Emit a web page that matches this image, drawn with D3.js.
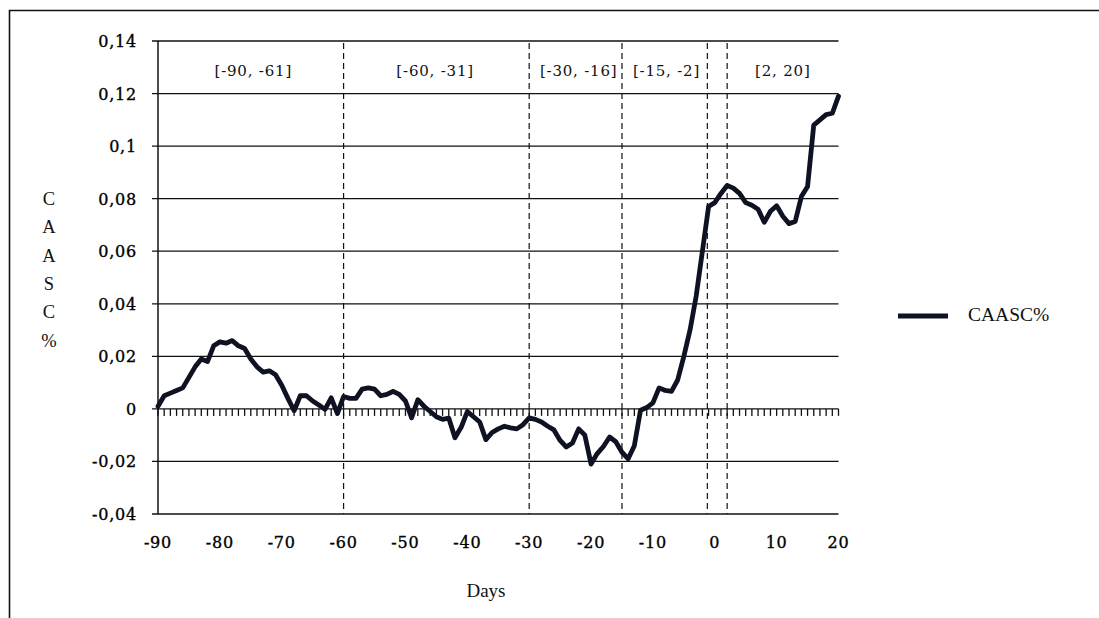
<!DOCTYPE html>
<html><head><meta charset="utf-8">
<script src="https://cdn.jsdelivr.net/npm/d3@7"></script>
<style>body{margin:0;background:#fff}svg{display:block}</style>
</head><body>
<svg id="c" width="1099" height="618"></svg>
<script>
const days = d3.range(-90, 21);
const values = [
 0.001,0.005,0.006,0.007,0.008,0.012,0.016,0.019,0.018,0.024,
 0.0255,0.025,0.026,0.024,0.023,0.019,0.016,0.014,0.0145,0.013,
 0.009,0.004,-0.0007,0.005,0.005,0.003,0.0015,-0.0002,0.0042,-0.0018,
 0.0047,0.004,0.004,0.0075,0.008,0.0075,0.005,0.0055,0.0067,0.0055,
 0.003,-0.0034,0.0035,0.001,-0.001,-0.003,-0.004,-0.0035,-0.011,-0.007,
 -0.001,-0.003,-0.005,-0.0117,-0.009,-0.0076,-0.0066,-0.0072,-0.0076,-0.006,
 -0.0034,-0.004,-0.005,-0.0066,-0.008,-0.012,-0.0145,-0.013,-0.0076,-0.01,
 -0.021,-0.017,-0.0143,-0.0107,-0.0125,-0.0165,-0.019,-0.014,-0.0005,0.0005,
 0.0023,0.008,0.007,0.0067,0.011,0.02,0.03,0.043,0.06,0.077,
 0.0785,0.082,0.085,0.084,0.082,0.0785,0.0775,0.076,0.071,0.0752,
 0.0773,0.0733,0.0705,0.0713,0.0808,0.0846,0.108,0.110,0.112,0.1125,
 0.119
];
const yTicks = [0.14,0.12,0.10,0.08,0.06,0.04,0.02,0,-0.02,-0.04];
const yTickLabels = ["0,14","0,12","0,1","0,08","0,06","0,04","0,02","0","-0,02","-0,04"];
const xTicks = [-90,-80,-70,-60,-50,-40,-30,-20,-10,0,10,20];
const dividers = [-60,-30,-15,-1.2,2];
const periodLabels = ["[-90, -61]","[-60, -31]","[-30, -16]","[-15, -2]","[2, 20]"];
const periodCenters = [-74.6,-45.2,-22,-7.8,11];
const seriesName = "CAASC%";
const yTitle = ["C","A","A","S","C","%"];
const xTitle = "Days";

const svg = d3.select("#c");
const x = d3.scaleLinear().domain([-90,20]).range([158,838.5]);
const y = d3.scaleLinear().domain([-0.04,0.14]).range([514,41]);

// outer frame
svg.append("path").attr("d","M9.5,618 V10.5 H1099").attr("fill","none").attr("stroke","#111").attr("stroke-width",1.6);

// gridlines
svg.append("g").selectAll("line").data(yTicks).join("line")
  .attr("x1",152).attr("x2",x(20)).attr("y1",d=>y(d)).attr("y2",d=>y(d))
  .attr("stroke","#111").attr("stroke-width",1.3);
// y axis line
svg.append("line").attr("x1",x(-90)).attr("x2",x(-90)).attr("y1",y(0.14)).attr("y2",y(-0.04)).attr("stroke","#111").attr("stroke-width",1.5);

// minor ticks on zero line
svg.append("g").selectAll("line").data(days).join("line")
  .attr("x1",d=>x(d)).attr("x2",d=>x(d)).attr("y1",y(0)).attr("y2",y(0)+7)
  .attr("stroke","#111").attr("stroke-width",1.3);

// dividers
svg.append("g").selectAll("line").data(dividers).join("line")
  .attr("x1",d=>x(d)).attr("x2",d=>x(d)).attr("y1",y(0.14)+2).attr("y2",y(-0.04))
  .attr("stroke","#111").attr("stroke-width",1.2).attr("stroke-dasharray","6,4");

// y tick labels
svg.append("g").selectAll("text").data(yTicks).join("text")
  .attr("x",137).attr("y",d=>y(d)+6).attr("text-anchor","end")
  .attr("font-family","DejaVu Serif").attr("font-size",16).attr("letter-spacing",0.8)
  .attr("fill","#000").attr("stroke","#000").attr("stroke-width",0.35)
  .text((d,i)=>yTickLabels[i]);
// x tick labels
svg.append("g").selectAll("text").data(xTicks).join("text")
  .attr("x",d=>x(d)).attr("y",548).attr("text-anchor","middle")
  .attr("font-family","DejaVu Serif").attr("font-size",16).attr("letter-spacing",0.8)
  .attr("fill","#000").attr("stroke","#000").attr("stroke-width",0.35)
  .text(d=>String(d));

// period labels
svg.append("g").selectAll("text").data(periodLabels).join("text")
  .attr("x",(d,i)=>x(periodCenters[i])).attr("y",76).attr("text-anchor","middle")
  .attr("font-family","DejaVu Serif").attr("font-size",15).attr("letter-spacing",0.8).attr("fill","#111")
  .text(d=>d);

// y title stacked
svg.append("g").selectAll("text").data(yTitle).join("text")
  .attr("x",49).attr("y",(d,i)=>205+i*28.3).attr("text-anchor","middle")
  .attr("font-family","Liberation Serif").attr("font-size",18.5).attr("fill","#111")
  .text(d=>d);

// x title
svg.append("text").attr("x",486).attr("y",597).attr("text-anchor","middle")
  .attr("font-family","Liberation Serif").attr("font-size",19).attr("fill","#111").text(xTitle);

// series line
const line = d3.line().x((d,i)=>x(days[i])).y(d=>y(d));
svg.append("path").datum(values).attr("d",line).attr("fill","none")
  .attr("stroke","#0e1222").attr("stroke-width",4.8).attr("stroke-linejoin","round").attr("stroke-linecap","round");

// legend
svg.append("line").attr("x1",898).attr("x2",948).attr("y1",316).attr("y2",316)
  .attr("stroke","#0e1222").attr("stroke-width",5);
svg.append("text").attr("x",968).attr("y",321).attr("font-family","Liberation Serif").attr("font-size",19.5).attr("fill","#111").text(seriesName);
</script>
</body></html>
